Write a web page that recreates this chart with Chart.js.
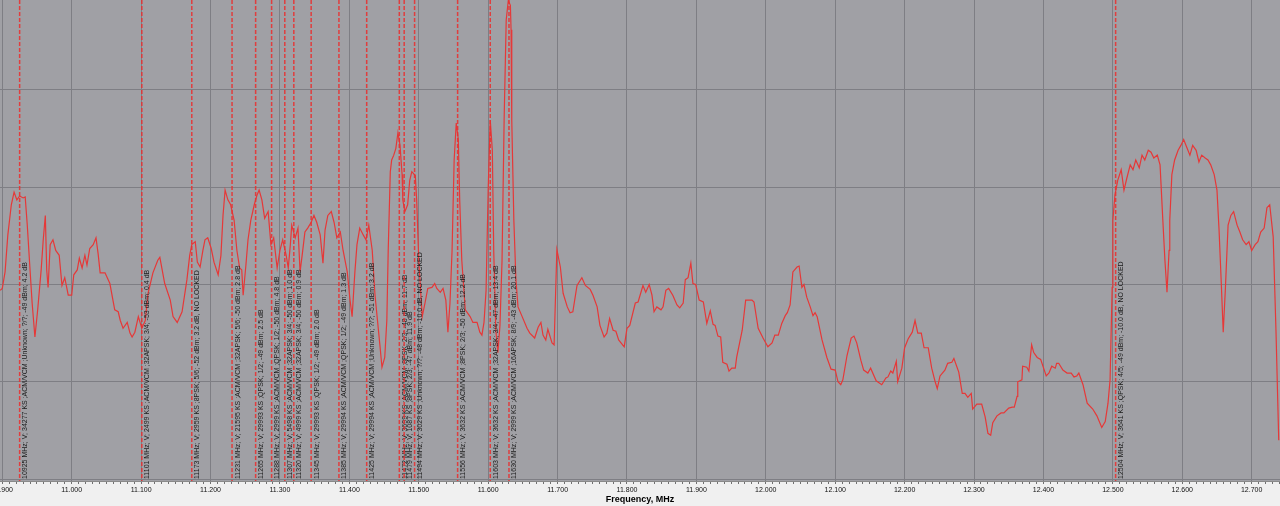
<!DOCTYPE html>
<html><head><meta charset="utf-8">
<script src="https://cdn.jsdelivr.net/npm/chart.js@4.4.1/dist/chart.umd.min.js"></script>
<style>html,body{margin:0;padding:0;background:#f0f0f0;overflow:hidden}#wrap{width:1280px;height:506px}</style>
</head><body><div id="wrap"><canvas id="c" width="1280" height="506"></canvas></div>
<script>
// Spectrum trace: frequency (MHz) and level (dB)
const freqMHz = [10897,10900,10904,10908,10913,10917,10921,10925,10930,10933,10936,10940,10943,10947,10951,10956,10959,10962,10964,10966,10969,10973,10977,10982,10986,10990,10995,11000,11003,11008,11011,11015,11019,11022,11026,11031,11035,11038,11041,11048,11055,11062,11067,11070,11074,11080,11084,11087,11091,11096,11101,11106,11110,11117,11124,11127,11134,11142,11146,11152,11159,11166,11170,11173,11178,11181,11185,11189,11192,11196,11201,11205,11211,11215,11218,11221,11225,11229,11234,11238,11242,11245,11247,11251,11254,11258,11263,11267,11270,11274,11278,11283,11287,11291,11296,11300,11304,11309,11312,11315,11317,11322,11326,11329,11332,11336,11340,11345,11349,11353,11358,11362,11365,11369,11374,11378,11382,11387,11391,11397,11401,11404,11408,11411,11415,11420,11424,11428,11433,11437,11440,11444,11447,11451,11454,11456,11459,11461,11464,11467,11470,11473,11476,11477,11480,11484,11487,11490,11495,11497,11500,11505,11509,11513,11519,11523,11526,11531,11535,11539,11542,11545,11548,11551,11554,11557,11559,11562,11567,11574,11578,11584,11588,11591,11594,11597,11600,11603,11606,11608,11611,11614,11617,11620,11623,11626,11629,11632,11633,11634,11637,11640,11643,11649,11656,11660,11667,11672,11676,11679,11683,11686,11692,11695,11699,11704,11708,11714,11718,11722,11728,11735,11740,11747,11751,11757,11761,11767,11771,11775,11780,11784,11788,11796,11800,11804,11812,11816,11823,11827,11832,11836,11839,11843,11849,11852,11856,11860,11866,11872,11876,11881,11884,11888,11892,11895,11899,11904,11910,11915,11920,11924,11927,11931,11935,11938,11944,11947,11951,11956,11958,11966,11971,11980,11983,11989,11996,12003,12009,12013,12018,12023,12028,12031,12035,12039,12045,12048,12052,12055,12059,12064,12068,12071,12074,12081,12088,12094,12100,12104,12108,12111,12117,12123,12127,12131,12137,12141,12147,12151,12159,12167,12173,12176,12180,12183,12188,12190,12196,12200,12205,12211,12215,12219,12224,12228,12234,12239,12244,12247,12251,12258,12262,12268,12271,12278,12283,12287,12291,12296,12298,12304,12311,12316,12320,12324,12327,12333,12339,12343,12350,12355,12358,12362,12363,12369,12370,12376,12379,12383,12386,12391,12396,12404,12408,12412,12417,12419,12422,12428,12434,12440,12444,12448,12451,12457,12463,12471,12477,12484,12489,12493,12496,12499,12500,12503,12507,12512,12516,12520,12525,12529,12533,12538,12542,12546,12551,12555,12559,12564,12568,12572,12575,12578,12581,12582,12585,12589,12594,12598,12602,12607,12611,12615,12620,12624,12628,12633,12637,12641,12646,12650,12653,12656,12659,12662,12666,12670,12674,12679,12683,12687,12692,12696,12700,12705,12709,12713,12718,12722,12726,12731,12735,12739];
const levelDb = [-70.6,-70.4,-68.7,-64.9,-61.8,-60.5,-61.3,-60.9,-61.1,-61.0,-63.9,-68.5,-71.9,-75.4,-72.6,-68.5,-65.4,-62.9,-68.5,-70.3,-65.9,-65.4,-66.5,-67.0,-70.1,-69.3,-71.1,-71.1,-69.0,-68.5,-67.3,-68.3,-67.0,-68.0,-66.3,-65.9,-65.2,-66.8,-68.8,-68.8,-69.9,-72.6,-72.8,-73.7,-74.5,-73.9,-75.0,-75.4,-74.9,-73.3,-74.5,-73.7,-70.9,-68.8,-67.5,-67.2,-69.9,-71.6,-73.3,-73.9,-72.8,-69.5,-67.0,-65.9,-65.6,-67.7,-68.2,-66.5,-65.4,-65.2,-66.3,-67.7,-69.0,-67.0,-62.9,-60.3,-61.3,-61.8,-63.4,-66.5,-68.3,-68.5,-71.1,-68.0,-65.4,-63.4,-61.8,-60.8,-60.3,-61.3,-63.2,-62.5,-65.9,-65.2,-68.3,-66.5,-65.4,-67.0,-68.3,-65.9,-63.9,-65.2,-64.2,-68.7,-67.0,-64.6,-64.2,-63.6,-62.9,-63.6,-64.9,-67.8,-64.4,-62.9,-62.5,-63.6,-65.2,-64.6,-66.5,-68.7,-71.6,-73.3,-68.7,-65.9,-64.2,-64.9,-65.4,-63.9,-66.5,-71.1,-73.3,-76.2,-78.5,-77.5,-73.7,-66.5,-58.4,-57.2,-56.7,-56.0,-54.4,-55.7,-58.7,-61.3,-62.5,-61.8,-59.3,-58.4,-58.8,-61.3,-67.5,-73.3,-71.9,-70.4,-70.3,-69.9,-70.4,-70.8,-70.4,-71.6,-74.9,-71.9,-66.5,-57.2,-53.4,-55.1,-61.3,-67.5,-72.6,-73.3,-73.9,-73.9,-74.9,-75.2,-73.9,-70.6,-60.3,-53.1,-56.2,-66.5,-74.7,-77.0,-74.2,-67.5,-53.1,-42.8,-40.8,-41.3,-43.8,-53.1,-63.4,-69.5,-72.3,-73.3,-74.5,-75.0,-75.5,-74.4,-73.9,-75.2,-75.7,-74.6,-76.0,-76.2,-66.4,-68.2,-70.9,-72.3,-72.9,-72.8,-70.1,-69.3,-70.1,-70.5,-71.1,-72.3,-74.2,-75.4,-75.0,-73.5,-74.7,-74.8,-75.7,-76.4,-74.5,-74.2,-71.9,-71.8,-70.1,-70.8,-70.0,-71.1,-72.8,-72.3,-72.6,-72.3,-70.6,-70.4,-71.1,-72.1,-72.4,-71.9,-69.5,-69.3,-67.8,-69.9,-70.0,-71.6,-71.8,-74.0,-72.7,-74.1,-74.2,-75.3,-75.4,-78.0,-78.2,-78.9,-78.6,-78.6,-77.5,-74.7,-71.6,-71.6,-71.8,-74.5,-75.5,-76.4,-76.0,-75.2,-75.2,-74.0,-73.2,-72.9,-72.1,-68.7,-68.2,-68.1,-70.3,-70.0,-71.3,-72.3,-73.2,-72.9,-73.3,-75.7,-77.5,-78.7,-78.8,-80.0,-80.3,-79.8,-77.3,-75.5,-75.3,-76.0,-77.8,-78.8,-79.1,-78.6,-79.9,-80.3,-79.6,-79.5,-78.9,-79.1,-77.9,-80.0,-78.6,-76.5,-75.6,-74.9,-73.7,-75.0,-75.0,-76.5,-76.5,-78.6,-80.0,-80.7,-79.4,-78.8,-78.1,-78.0,-77.6,-79.0,-81.2,-81.2,-81.6,-81.2,-82.8,-82.3,-82.3,-83.6,-85.3,-85.5,-84.2,-83.5,-83.2,-83.2,-82.7,-82.6,-82.6,-81.5,-80.0,-79.8,-78.4,-78.5,-78.9,-76.2,-77.0,-77.5,-77.7,-79.4,-79.1,-78.4,-78.6,-78.1,-78.1,-78.8,-79.1,-79.1,-79.5,-79.4,-79.1,-80.3,-82.2,-82.8,-83.5,-84.7,-84.1,-82.2,-79.8,-70.3,-63.4,-60.8,-59.3,-58.2,-60.3,-59.1,-57.7,-58.2,-57.2,-58.0,-56.7,-57.2,-56.2,-56.4,-57.0,-56.7,-57.7,-63.4,-67.5,-70.8,-66.5,-63.4,-58.7,-57.2,-56.2,-55.7,-55.1,-56.0,-56.7,-55.7,-56.2,-57.4,-56.7,-57.0,-57.2,-57.7,-58.7,-60.3,-64.4,-69.5,-74.9,-70.6,-63.9,-62.9,-62.5,-63.9,-64.6,-65.4,-65.9,-65.6,-66.5,-65.9,-65.6,-64.6,-64.2,-62.1,-61.8,-65.1,-74.7,-86.0];

// Carrier markers
const carrierFreqMHz = [10925,11101,11173,11231,11265,11288,11307,11320,11345,11385,11425,11472,11479,11494,11556,11603,11630,12504];
const carrierLabels = [
 "10925 MHz; V; 34277 KS ;ACM/VCM ;Unknown; ?/?; -49 dBm; 4.2 dB",
 "11101 MHz; V; 2499 KS ;ACM/VCM ;32APSK; 3/4; -53 dBm; 0.4 dB",
 "11173 MHz; V; 2959 KS ;8PSK; 5/6; -52 dBm; 3.2 dB, NO LOCKED",
 "11231 MHz; V; 21595 KS ;ACM/VCM ;32APSK; 5/6; -50 dBm; 2.8 dB",
 "11265 MHz; V; 29993 KS ;QPSK; 1/2; -49 dBm; 2.5 dB",
 "11288 MHz; V; 2999 KS ;ACM/VCM ;QPSK; 1/2; -50 dBm; 4.8 dB",
 "11307 MHz; V; 5498 KS ;ACM/VCM ;32APSK; 3/4; -50 dBm; 1.0 dB",
 "11320 MHz; V; 4999 KS ;ACM/VCM ;32APSK; 3/4; -50 dBm; 0.9 dB",
 "11345 MHz; V; 29993 KS ;QPSK; 1/2; -49 dBm; 2.0 dB",
 "11385 MHz; V; 29994 KS ;ACM/VCM ;QPSK; 1/2; -49 dBm; 1.3 dB",
 "11425 MHz; V; 29994 KS ;ACM/VCM ;Unknown; ?/?; -51 dBm; 3.2 dB",
 "11472 MHz; V; 3699 KS ;ACM/VCM ;8PSK; 2/3; -48 dBm; 11.7 dB",
 "11479 MHz; V; 1087 KS ;8PSK; 2/3; -47 dBm; 11.9 dB",
 "11494 MHz; V; 3029 KS ;Unknown; ?/?; -48 dBm; -10.0 dB, NO LOCKED",
 "11556 MHz; V; 3632 KS ;ACM/VCM ;8PSK; 2/3; -50 dBm; 12.2 dB",
 "11603 MHz; V; 3632 KS ;ACM/VCM ;32APSK; 3/4; -47 dBm; 13.4 dB",
 "11630 MHz; V; 2999 KS ;ACM/VCM ;16APSK; 8/9; -43 dBm; 20.1 dB",
 "12504 MHz; V; 3641 KS ;QPSK; 4/5; -49 dBm; -10.0 dB, NO LOCKED"
];

const xMinMHz = 10896.7, xMaxMHz = 12740.8;
const yMinDb = -90.2, yMaxDb = -40.75;
const axisTitle = "Frequency, MHz";

const PLOT_BG = '#a0a0a5', PAGE_BG = '#f0f0f0', GRID = '#7e7e84';

const bgPlugin = {
  id: 'bg',
  beforeDraw(chart) {
    const {ctx, chartArea: a} = chart;
    ctx.save();
    ctx.fillStyle = PAGE_BG; ctx.fillRect(0, 0, chart.width, chart.height);
    ctx.fillStyle = PLOT_BG; ctx.fillRect(a.left, a.top, a.right - a.left, a.bottom - a.top);
    ctx.restore();
  }
};
const markerPlugin = {
  id: 'markers',
  afterDatasetsDraw(chart) {
    const {ctx, chartArea: a, scales: {x}} = chart;
    ctx.save();
    ctx.beginPath(); ctx.rect(a.left, a.top, a.right - a.left, a.bottom - a.top); ctx.clip();
    carrierFreqMHz.forEach((f, i) => {
      const px = x.getPixelForValue(f);
      ctx.save();
      ctx.strokeStyle = 'rgba(232,48,48,0.88)';
      ctx.lineWidth = 1.5;
      ctx.setLineDash([4, 2]);
      ctx.beginPath(); ctx.moveTo(px, a.top); ctx.lineTo(px, a.bottom); ctx.stroke();
      ctx.restore();
      ctx.save();
      ctx.translate(px + 7.5, a.bottom - 2);
      ctx.rotate(-Math.PI / 2);
      ctx.fillStyle = '#1c1c1c';
      ctx.font = '7px "Liberation Sans", Arial, sans-serif';
      ctx.textAlign = 'left'; ctx.textBaseline = 'alphabetic';
      ctx.fillText(carrierLabels[i], 0, 0);
      ctx.restore();
    });
    ctx.restore();
  }
};

new Chart(document.getElementById('c'), {
  type: 'line',
  data: { datasets: [{
    data: freqMHz.map((f, i) => ({x: f, y: levelDb[i]})),
    borderColor: '#e63838', borderWidth: 1.2, pointRadius: 0, tension: 0, fill: false
  }]},
  options: {
    responsive: false, animation: false, devicePixelRatio: 1,
    layout: { padding: 0 },
    plugins: { legend: {display: false}, tooltip: {enabled: false} },
    scales: {
      x: {
        type: 'linear', min: xMinMHz, max: xMaxMHz,
        afterFit(s) { s.height = 25; s.paddingLeft = 0; s.paddingRight = 0; },
        border: { display: true, color: '#8a8a8a', width: 1 },
        grid: {
          color: c => (c.tick && Math.round(c.tick.value) % 100 === 0) ? GRID : 'rgba(0,0,0,0)',
          tickColor: '#707070', tickLength: 3, drawTicks: true
        },
        ticks: {
          stepSize: 10, autoSkip: false, maxRotation: 0, minRotation: 0, includeBounds: false,
          padding: 2, color: '#111',
          font: { family: 'Liberation Sans', size: 7 },
          callback: v => Math.round(v) % 100 === 0 ? (v / 1000).toFixed(3) : ''
        },
        title: { display: true, text: axisTitle, color: '#000',
          font: { family: 'Liberation Sans', size: 9, weight: 'bold' }, padding: {top: 0, bottom: 1} }
      },
      y: {
        min: yMinDb, max: yMaxDb,
        afterFit(s) { s.width = 0; s.paddingTop = 0; s.paddingBottom = 0; },
        border: { display: false },
        grid: { color: GRID, drawTicks: false },
        ticks: { display: false, stepSize: 10, includeBounds: false }
      }
    }
  },
  plugins: [bgPlugin, markerPlugin]
});
</script></body></html>
